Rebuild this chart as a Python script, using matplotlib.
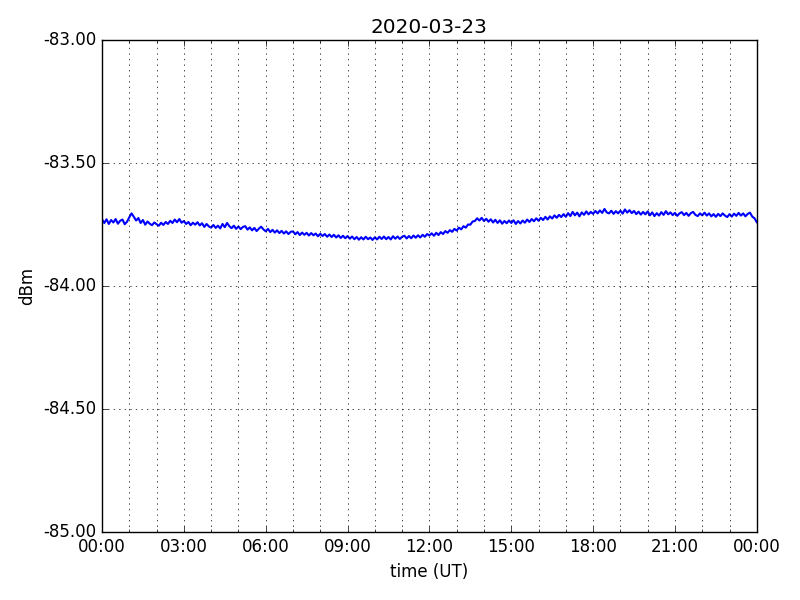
import matplotlib
matplotlib.use("Agg")
import matplotlib.pyplot as plt
import matplotlib.dates as mdates
import matplotlib.ticker as mticker
import pandas as pd

# signal level, one reading every 5 minutes, one row per hour (UT)
day = "2020-03-23"
level_dbm = [
    -83.728, -83.743, -83.728, -83.747, -83.731, -83.741, -83.727, -83.746, -83.734, -83.729, -83.748, -83.738,
    -83.720, -83.704, -83.718, -83.733, -83.723, -83.743, -83.731, -83.750, -83.737, -83.746, -83.752, -83.741,
    -83.748, -83.754, -83.742, -83.751, -83.739, -83.747, -83.734, -83.743, -83.729, -83.740, -83.727, -83.742,
    -83.735, -83.747, -83.739, -83.752, -83.742, -83.750, -83.740, -83.753, -83.744, -83.759, -83.747, -83.757,
    -83.762, -83.751, -83.763, -83.754, -83.765, -83.747, -83.760, -83.743, -83.756, -83.764, -83.754, -83.767,
    -83.757, -83.768, -83.759, -83.756, -83.770, -83.761, -83.773, -83.763, -83.776, -83.766, -83.758, -83.769,
    -83.777, -83.767, -83.780, -83.771, -83.782, -83.773, -83.784, -83.775, -83.786, -83.777, -83.788, -83.779,
    -83.777, -83.789, -83.780, -83.792, -83.782, -83.791, -83.783, -83.794, -83.784, -83.793, -83.786, -83.797,
    -83.787, -83.796, -83.788, -83.799, -83.790, -83.800, -83.791, -83.802, -83.793, -83.804, -83.795, -83.805,
    -83.796, -83.807, -83.798, -83.809, -83.800, -83.811, -83.801, -83.810, -83.799, -83.809, -83.802, -83.812,
    -83.801, -83.810, -83.799, -83.808, -83.798, -83.809, -83.800, -83.810, -83.797, -83.807, -83.798, -83.808,
    -83.799, -83.795, -83.806, -83.796, -83.805, -83.794, -83.803, -83.793, -83.802, -83.791, -83.799, -83.788,
    -83.794, -83.785, -83.795, -83.783, -83.792, -83.780, -83.788, -83.776, -83.783, -83.772, -83.779, -83.767,
    -83.774, -83.762, -83.769, -83.756, -83.762, -83.749, -83.750, -83.737, -83.735, -83.724, -83.733, -83.722,
    -83.735, -83.726, -83.738, -83.728, -83.741, -83.730, -83.743, -83.732, -83.746, -83.735, -83.744, -83.733,
    -83.743, -83.732, -83.747, -83.735, -83.745, -83.733, -83.742, -83.729, -83.739, -83.727, -83.736, -83.724,
    -83.734, -83.722, -83.731, -83.718, -83.729, -83.716, -83.725, -83.712, -83.722, -83.710, -83.719, -83.707,
    -83.718, -83.703, -83.715, -83.698, -83.712, -83.701, -83.716, -83.700, -83.710, -83.696, -83.708, -83.698,
    -83.706, -83.694, -83.704, -83.692, -83.702, -83.686, -83.700, -83.704, -83.693, -83.706, -83.695, -83.704,
    -83.693, -83.705, -83.688, -83.701, -83.691, -83.703, -83.694, -83.707, -83.697, -83.709, -83.698, -83.708,
    -83.696, -83.712, -83.700, -83.715, -83.703, -83.713, -83.699, -83.710, -83.695, -83.708, -83.700, -83.711,
    -83.702, -83.714, -83.704, -83.699, -83.711, -83.702, -83.714, -83.703, -83.698, -83.710, -83.715, -83.704,
    -83.712, -83.701, -83.713, -83.704, -83.716, -83.707, -83.718, -83.706, -83.715, -83.704, -83.713, -83.719,
    -83.707, -83.717, -83.705, -83.714, -83.702, -83.713, -83.704, -83.716, -83.706, -83.701, -83.717, -83.724,
    -83.740,
]
times = pd.date_range(day, periods=len(level_dbm), freq="5min")

plt.style.use("classic")
fig, ax = plt.subplots(figsize=(8, 6), dpi=100)
fig.subplots_adjust(left=0.1275, right=0.946, top=0.933, bottom=0.113)

ax.plot(times, level_dbm, color="b", linewidth=1.5)

ax.set_xlim(pd.Timestamp(day), pd.Timestamp(day) + pd.Timedelta(days=1))
ax.set_ylim(-85, -83)
ax.xaxis.set_major_locator(mdates.HourLocator(byhour=range(0, 24, 3)))
ax.xaxis.set_minor_locator(mdates.HourLocator())
ax.xaxis.set_major_formatter(mdates.DateFormatter("%H:%M"))
ax.yaxis.set_major_locator(mticker.MultipleLocator(0.5))
ax.yaxis.set_major_formatter(mticker.FormatStrFormatter("%.2f"))

ax.grid(True, which="major", linestyle=":", color="k")
ax.xaxis.grid(True, which="minor", linestyle=":", color="k")

ax.set_title(day)
ax.set_xlabel("time (UT)")
ax.set_ylabel("dBm")

fig.savefig("out.png", dpi=100)
